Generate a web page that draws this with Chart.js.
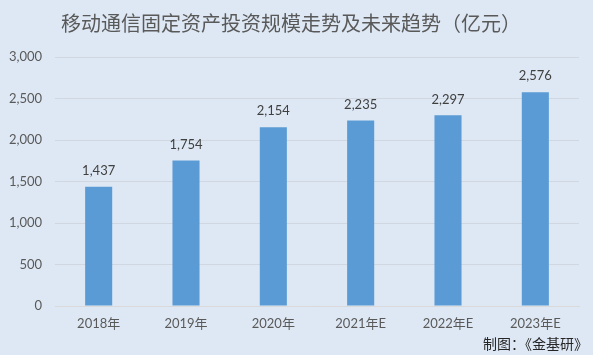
<!DOCTYPE html>
<html><head><meta charset="utf-8">
<script src="https://cdn.jsdelivr.net/npm/chart.js@4"></script>
<style>html,body{margin:0;padding:0;background:#dee8f4;}#w{width:593px;height:355px;}</style>
</head><body><div id="w"><canvas id="c"></canvas></div>
<script>
const categories = ["2018年","2019年","2020年","2021年E","2022年E","2023年E"];
const values = [1437,1754,2154,2235,2297,2576];
const yTicks = [0,500,1000,1500,2000,2500,3000];
const titleText = "移动通信固定资产投资规模走势及未来趋势（亿元）";
const sourceText = "制图：《金基研》";
const fam = "Lato, 'Noto Sans CJK SC', sans-serif";

const deco = {
  id:'deco',
  beforeDraw(chart){
    const c = chart.ctx;
    c.save();
    c.fillStyle = '#dee8f4';
    c.fillRect(0,0,chart.width,chart.height);
    c.restore();
  },
  afterDraw(chart){
    const c = chart.ctx;
    c.save();
    c.fillStyle = '#595959';
    c.font = "20px 'Noto Sans CJK SC', sans-serif";
    c.textAlign = 'center'; c.textBaseline = 'middle';
    c.fillText(titleText, 291, 23);
    c.font = "14px 'Noto Sans CJK SC', sans-serif";
    c.fillStyle = '#262626';
    c.textAlign = 'right';
    c.fillText(sourceText, 588, 344);
    const meta = chart.getDatasetMeta(0);
    c.font = "13px " + fam;
    c.fillStyle = '#404040';
    c.textAlign = 'center'; c.textBaseline = 'middle';
    meta.data.forEach((b,i)=>{
      c.fillText(values[i].toLocaleString('en-US'), b.x, b.y - 16);
    });
    c.restore();
  }
};

new Chart(document.getElementById('c'), {
  type:'bar',
  data:{labels:categories, datasets:[{data:values, backgroundColor:'#5b9bd5', barPercentage:0.31, categoryPercentage:1}]},
  options:{
    responsive:true, maintainAspectRatio:false, animation:false,
    layout:{padding:{top:57,right:14,bottom:0,left:0}},
    plugins:{legend:{display:false}, tooltip:{enabled:false}, title:{display:false}},
    scales:{
      x:{
        grid:{display:false, drawTicks:false},
        border:{color:'#d9d9d9'},
        ticks:{color:'#595959', font:{size:13, family:fam}, padding:10},
        afterFit(s){ s.height = 49; }
      },
      y:{
        min:0, max:3000,
        afterBuildTicks(s){ s.ticks = yTicks.map(v=>({value:v})); },
        grid:{color:'#d0d7e0', drawTicks:false},
        border:{display:false},
        ticks:{color:'#595959', font:{size:13, family:fam}, padding:13, callback:v=>v.toLocaleString('en-US')},
        afterFit(s){ s.width = 55; }
      }
    }
  },
  plugins:[deco]
});
</script></body></html>
